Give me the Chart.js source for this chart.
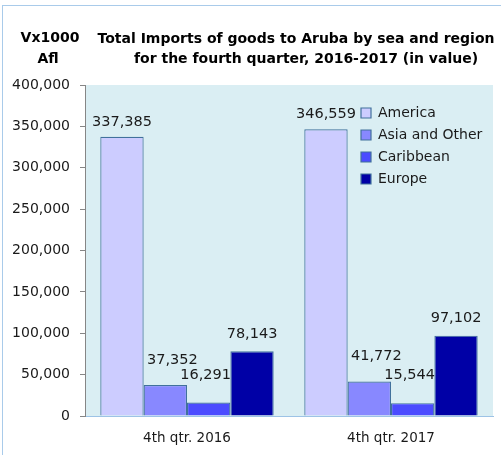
<!DOCTYPE html>
<html>
<head>
<meta charset="utf-8">
<script src="https://cdn.jsdelivr.net/npm/chart.js@4.4.1/dist/chart.umd.min.js"></script>
<style>
  html, body { margin: 0; padding: 0; background: #ffffff; }
  #wrap { position: relative; width: 501px; height: 455px; }
</style>
</head>
<body>
<div id="wrap"><canvas id="c" width="501" height="455"></canvas></div>
<script>
// ---- data ----
const categories = ['4th qtr. 2016', '4th qtr. 2017'];
const seriesNames = ['America', 'Asia and Other', 'Caribbean', 'Europe'];
const america = [337385, 346559];
const asiaOther = [37352, 41772];
const caribbean = [16291, 15544];
const europe = [78143, 97102];
const yMin = 0;
const yMax = 400000;
const yStep = 50000;
const titleLines = ['Total Imports of goods to Aruba by sea and region', 'for the fourth quarter, 2016-2017 (in value)'];
const unitLines = ['Vx1000', 'Afl'];

// ---- styles ----
const seriesValues = [america, asiaOther, caribbean, europe];
const fills = ['#CCCCFF', '#8888FF', '#4B4BFF', '#0000A6'];
const edge = '#41719C';

const plotBg = {
  id: 'plotBg',
  beforeDraw(chart) {
    const { ctx, chartArea: a } = chart;
    ctx.save();
    ctx.fillStyle = '#DAEEF3';
    ctx.fillRect(a.left, a.top, a.right - a.left, a.bottom - a.top);
    ctx.strokeStyle = '#A9CBEA';
    ctx.lineWidth = 1;
    ctx.strokeRect(2.5, 5.5, 800, 800);
    ctx.restore();
  }
};

const headers = {
  id: 'headers',
  afterDraw(chart) {
    const ctx = chart.ctx;
    ctx.save();
    ctx.fillStyle = '#000000';
    ctx.font = 'bold 14px "DejaVu Sans"';
    ctx.textAlign = 'center';
    ctx.textBaseline = 'alphabetic';
    ctx.fillText(titleLines[0], 296, 43);
    ctx.fillText(titleLines[1], 306, 63);
    ctx.fillText(unitLines[0], 50, 42);
    ctx.fillText(unitLines[1], 48, 63);
    ctx.restore();
  }
};

const legendMove = {
  id: 'legendMove',
  afterLayout(chart) {
    const lg = chart.legend;
    if (!lg) return;
    const w = lg.width, h = lg.height;
    lg.left = 353; lg.top = 98;
    lg.right = lg.left + w; lg.bottom = lg.top + h;
  }
};

const valueLabels = {
  id: 'valueLabels',
  afterDatasetsDraw(chart, args, opts) {
    const ctx = chart.ctx;
    ctx.save();
    ctx.fillStyle = '#1a1a1a';
    ctx.font = '14.5px "DejaVu Sans"';
    ctx.textAlign = 'center';
    ctx.textBaseline = 'alphabetic';
    chart.data.datasets.forEach((ds, i) => {
      const meta = chart.getDatasetMeta(i);
      meta.data.forEach((bar, j) => {
        const v = ds.data[j];
        ctx.fillText(v.toLocaleString('en-US'), bar.x + opts.dx[i], bar.y - opts.gap[i]);
      });
    });
    ctx.restore();
  }
};

new Chart(document.getElementById('c'), {
  type: 'bar',
  data: {
    labels: categories,
    datasets: seriesNames.map((name, i) => ({
      label: name,
      data: seriesValues[i],
      backgroundColor: fills[i],
      borderColor: edge,
      borderWidth: 1.2,
      categoryPercentage: 0.85,
      barPercentage: 1.0
    }))
  },
  options: {
    responsive: false,
    animation: false,
    layout: { padding: { top: 85, right: 8, bottom: 0, left: 0 } },
    plugins: {
      title: { display: false },
      tooltip: { enabled: false },
      legend: {
        display: true,
        position: 'chartArea',
        align: 'start',
        labels: {
          boxWidth: 10,
          boxHeight: 10,
          padding: 8,
          color: '#1a1a1a',
          font: { family: 'DejaVu Sans', size: 14 }
        }
      },
      valueLabels: {
        dx: [0, 7, -3, 0],
        gap: [11, 21, 24, 13.5]
      }
    },
    scales: {
      x: {
        grid: { display: true, drawOnChartArea: false, drawTicks: false },
        border: { display: true, color: '#9DC3E6', width: 1 },
        ticks: { color: '#1a1a1a', padding: 14, font: { family: 'DejaVu Sans', size: 13.5 } },
        afterFit(scale) { scale.height = 39; }
      },
      y: {
        min: yMin,
        max: yMax,
        grid: { display: true, drawOnChartArea: false, drawTicks: true, tickLength: 5, color: '#868686' },
        border: { display: true, color: '#868686', width: 1 },
        ticks: {
          stepSize: yStep,
          color: '#1a1a1a',
          padding: 10,
          font: { family: 'DejaVu Sans', size: 14 },
          callback: (v) => v.toLocaleString('en-US')
        },
        afterFit(scale) { scale.width = 85; }
      }
    }
  },
  plugins: [plotBg, legendMove, valueLabels, headers]
});
</script>
</body>
</html>
